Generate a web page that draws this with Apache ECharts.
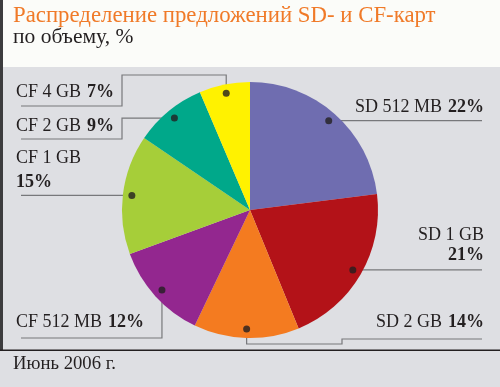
<!DOCTYPE html>
<html>
<head>
<meta charset="utf-8">
<style>html,body{margin:0;padding:0;background:#dedfe3;}#c{width:500px;height:387px;}</style>
<script src="https://cdn.jsdelivr.net/npm/echarts@6/dist/echarts.min.js"></script>
</head>
<body>
<div id="c"></div>
<script>
// ---- data ----
const categories = ['SD 512 MB', 'SD 1 GB', 'SD 2 GB', 'CF 512 MB', 'CF 1 GB', 'CF 2 GB', 'CF 4 GB'];
// percentages printed in the labels
const shares = [22, 21, 14, 12, 15, 9, 7];
const sliceSizes = [23.0, 20.8, 13.3, 12.3, 15.1, 9.1, 6.4];
const titleText = 'Распределение предложений SD- и CF-карт';
const subtitleText = 'по объему, %';
const footerText = 'Июнь 2006 г.';

// ---- styles / layout ----
const colors = ['#6f6db0', '#b31218', '#f47b20', '#93278f', '#a6ce39', '#00a88a', '#fff200'];
const CX = 250, CY = 210, R = 128, DOT_R = 0.93;
const FONT = '"Liberation Serif", "DejaVu Serif", serif';
const TEXT = '#231f20';
const LINE = '#77787b';

// per-label placement (label anchor + leader route), index-aligned with categories
const labelCfg = [
  {align: 'right', x: 484, y: 107, two: false, route: d => [d, [482, d[1]]]},
  {align: 'right', x: 484, y: 245, two: true, lh: 20, route: d => [d, [482, d[1]]]},
  {align: 'right', x: 484, y: 322, two: false, route: d => [d, [d[0], 344], [342, 344], [342, 339], [482, 339]]},
  {align: 'left', x: 16, y: 322, two: false, route: d => [d, [d[0], 338], [21, 338]]},
  {align: 'left', x: 16, y: 170, two: true, lh: 24, route: d => [d, [21, d[1]]]},
  {align: 'left', x: 16, y: 126, two: false, route: d => [d, [122, d[1]], [122, 139], [21, 139]]},
  {align: 'left', x: 16, y: 92, two: false, route: d => [d, [d[0], 75], [122, 75], [122, 106], [21, 106]]}
];

const total = sliceSizes.reduce((a, b) => a + b, 0);
const mids = [];
let acc = 0;
sliceSizes.forEach(v => { mids.push(acc + v / 2); acc += v; });

function dotPixel(i) {
  const ang = mids[i] / total * 2 * Math.PI; // clockwise from 12 o'clock
  return [CX + Math.sin(ang) * R * DOT_R, CY - Math.cos(ang) * R * DOT_R];
}

const pieData = categories.map((name, i) => {
  const lh = labelCfg[i].lh || 22;
  return {
    name: name,
    value: sliceSizes[i],
    share: shares[i],
    itemStyle: {color: colors[i]},
    label: {rich: {n: {lineHeight: lh}, p: {lineHeight: lh}}}
  };
});

const chart = echarts.init(document.getElementById('c'), null, {renderer: 'canvas'});
chart.setOption({
  backgroundColor: '#dedfe3',
  animation: false,
  graphic: [
    {type: 'rect', shape: {x: 0, y: 0, width: 500, height: 67}, style: {fill: '#fbfcf9'}, z: -10},
    {type: 'rect', shape: {x: 0, y: 0, width: 3, height: 351}, style: {fill: '#3c3c3e'}, z: 10},
    {type: 'rect', shape: {x: 0, y: 349.5, width: 500, height: 1.6}, style: {fill: '#231f20'}, z: 10},
    {type: 'text', x: 13, y: 16, style: {text: titleText, fill: '#f07a28', font: '22.8px ' + FONT, verticalAlign: 'middle'}},
    {type: 'text', x: 13, y: 37, style: {text: subtitleText, fill: TEXT, font: '21.5px ' + FONT, verticalAlign: 'middle'}},
    {type: 'text', x: 13, y: 364, style: {text: footerText, fill: TEXT, font: '18.7px ' + FONT, verticalAlign: 'middle'}}
  ],
  polar: {center: [CX, CY], radius: R},
  angleAxis: {type: 'value', min: 0, max: total, startAngle: 90, clockwise: true, show: false},
  radiusAxis: {type: 'value', min: 0, max: 1, show: false},
  series: [
    {
      type: 'pie',
      center: [CX, CY],
      radius: R,
      startAngle: 90,
      clockwise: true,
      avoidLabelOverlap: false,
      silent: true,
      data: pieData,
      itemStyle: {borderWidth: 0},
      label: {
        show: true,
        position: 'outside',
        overflow: 'none',
        fontFamily: FONT,
        color: TEXT,
        formatter: p => {
          const s = shares[p.dataIndex];
          return labelCfg[p.dataIndex].two
            ? '{n|' + p.name + '}\n{p|' + s + '%}'
            : '{n|' + p.name + '}  {p|' + s + '%}';
        },
        rich: {
          n: {fontFamily: FONT, fontSize: 18, color: TEXT},
          p: {fontFamily: FONT, fontSize: 18, fontWeight: 'bold', color: TEXT}
        }
      },
      labelLine: {show: true, smooth: false, length: 10, length2: 10, lineStyle: {color: LINE, width: 1.2}},
      labelLayout: params => {
        const c = labelCfg[params.dataIndex];
        return {
          x: c.x,
          y: c.y,
          align: c.align,
          verticalAlign: 'middle',
          labelLinePoints: c.route(dotPixel(params.dataIndex))
        };
      },
      z: 2
    },
    {
      type: 'scatter',
      coordinateSystem: 'polar',
      symbol: 'circle',
      symbolSize: 7,
      silent: true,
      itemStyle: {color: TEXT},
      data: mids.map(m => [DOT_R, m]),
      z: 5
    }
  ]
});
</script>
</body>
</html>
